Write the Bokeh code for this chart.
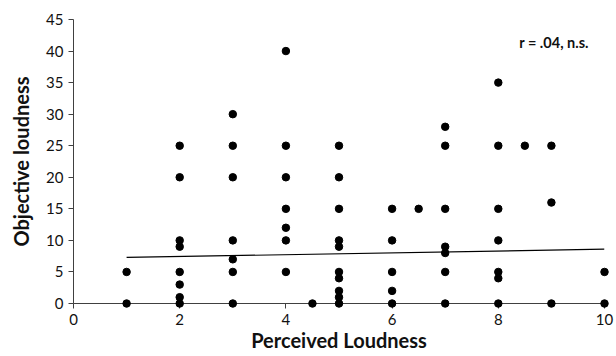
from bokeh.plotting import figure
from bokeh.models import Range1d, FixedTicker, Label, ColumnDataSource
from bokeh.embed import file_html
from bokeh.resources import INLINE

# Data
perceived = [1, 1,
             2, 2, 2, 2, 2, 2, 2, 2,
             3, 3, 3, 3, 3, 3, 3,
             4, 4, 4, 4, 4, 4, 4,
             4.5,
             5, 5, 5, 5, 5, 5, 5, 5, 5, 5,
             6, 6, 6, 6, 6,
             6.5,
             7, 7, 7, 7, 7, 7, 7,
             8, 8, 8, 8, 8, 8, 8,
             8.5,
             9, 9, 9,
             10, 10]
objective = [0, 5,
             25, 20, 10, 9, 5, 3, 1, 0,
             30, 25, 20, 10, 7, 5, 0,
             40, 25, 20, 15, 12, 10, 5,
             0,
             25, 20, 15, 10, 9, 5, 4, 2, 1, 0,
             15, 10, 5, 2, 0,
             15,
             28, 25, 15, 9, 8, 5, 0,
             35, 25, 15, 10, 5, 4, 0,
             25,
             25, 16, 0,
             5, 0]
fit_x = [1, 10]
fit_y = [7.3, 8.6]
x_ticks = [0, 2, 4, 6, 8, 10]
y_ticks = [0, 5, 10, 15, 20, 25, 30, 35, 40, 45]
annotation = "r = .04, n.s."

FONT = "Lato"
AXIS_COLOR = "#404040"

p = figure(width=616, height=356, output_backend="svg", toolbar_location=None,
           x_range=Range1d(0, 10), y_range=Range1d(0, 45),
           min_border_left=73, min_border_right=12, min_border_top=19, min_border_bottom=53)
p.outline_line_color = None
p.xgrid.grid_line_color = None
p.ygrid.grid_line_color = None

p.line(fit_x, fit_y, line_color="black", line_width=1.2)
src = ColumnDataSource(dict(x=perceived, y=objective))
r = p.scatter("x", "y", source=src, size=7.5, fill_color="black", line_color="black")
r.level = "overlay"

for ax in (p.xaxis[0], p.yaxis[0]):
    ax.axis_line_color = AXIS_COLOR
    ax.major_tick_line_color = AXIS_COLOR
    ax.minor_tick_line_color = None
    ax.major_tick_out = 5
    ax.major_tick_in = 0
    ax.major_label_text_font = FONT
    ax.major_label_text_font_size = "15px"
    ax.major_label_text_color = "#111111"
    ax.axis_label_text_font = FONT
    ax.axis_label_text_font_size = "20px"
    ax.axis_label_text_font_style = "bold"
    ax.axis_label_text_color = "#111111"

p.xaxis.ticker = FixedTicker(ticks=x_ticks)
p.yaxis.ticker = FixedTicker(ticks=y_ticks)
p.xaxis.axis_label = "Perceived Loudness"
p.yaxis.axis_label = "Objective loudness"
p.xaxis.major_label_standoff = 5
p.yaxis.major_label_standoff = 5
p.xaxis.axis_label_standoff = 0
p.yaxis.axis_label_standoff = 10

p.add_layout(Label(x=9.05, y=41.4, text=annotation, text_align="center", text_baseline="middle",
                   text_font=FONT, text_font_size="14.5px", text_font_style="bold",
                   text_color="#111111"))

open("out.html", "w").write(file_html(p, INLINE))
